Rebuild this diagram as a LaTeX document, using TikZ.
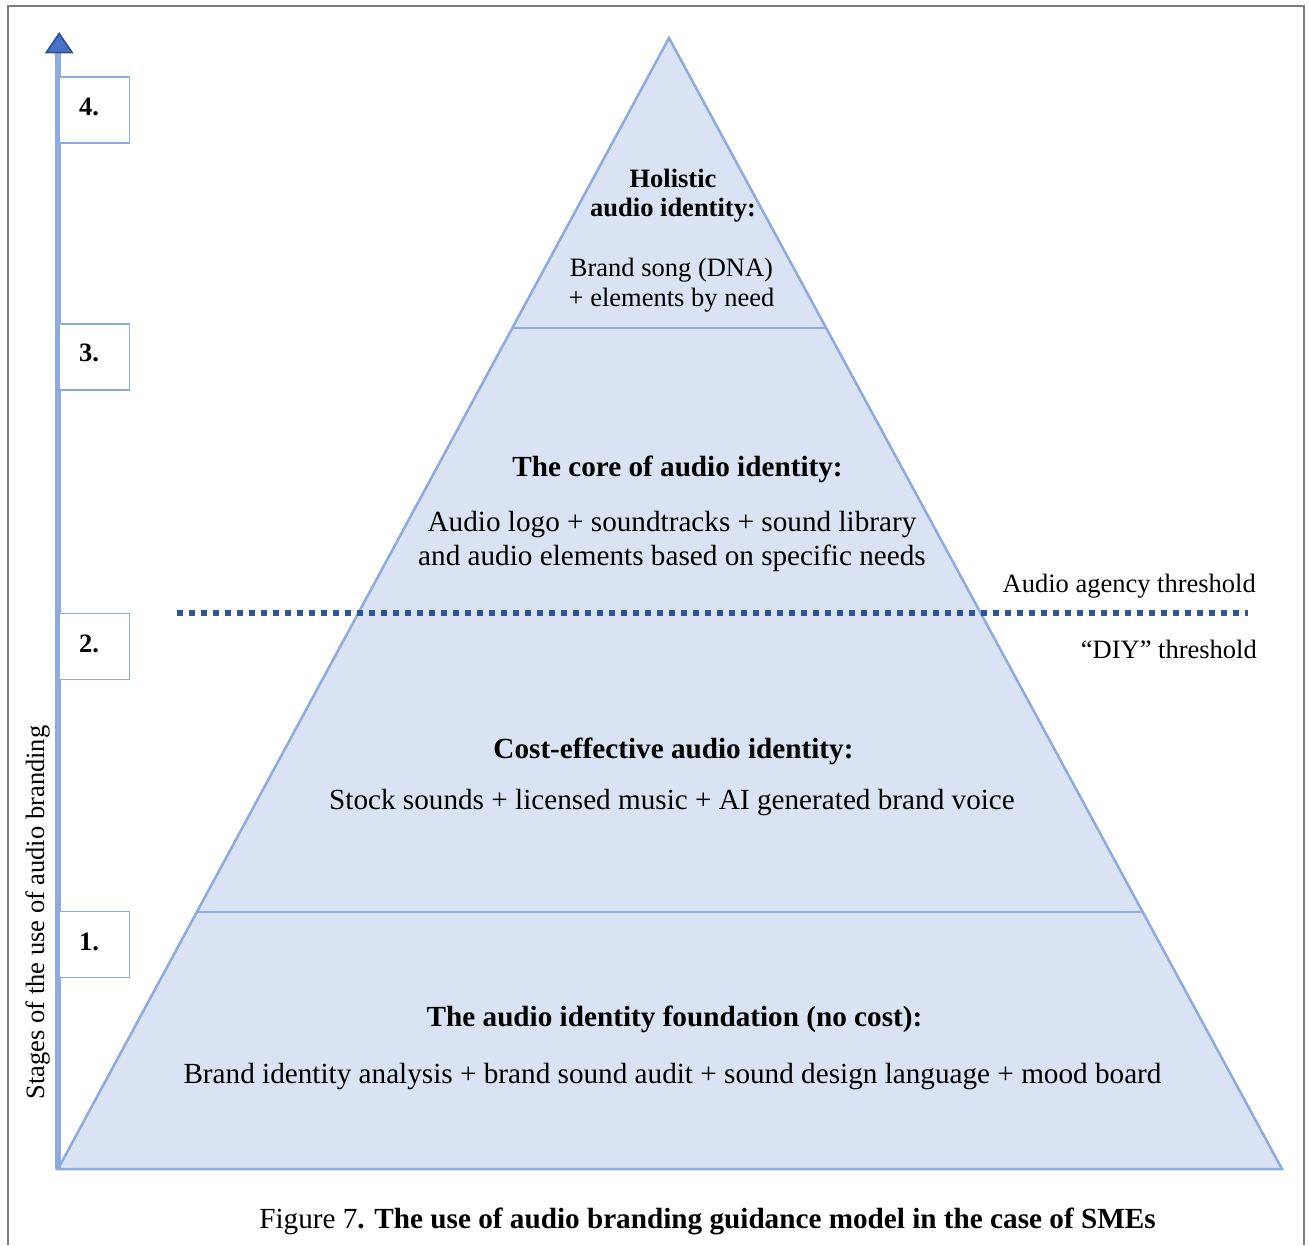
\documentclass[tikz,border=0pt]{standalone}
\usepackage{fontspec}
\setmainfont{Liberation Serif}
\usetikzlibrary{calc}
\definecolor{pyrfill}{HTML}{DAE3F3}
\definecolor{pyrline}{HTML}{8FAADC}
\definecolor{dotblue}{HTML}{2F5597}
\definecolor{tipfill}{HTML}{4472C4}
\definecolor{tipline}{HTML}{2F528F}
\definecolor{framegray}{HTML}{7F7F7F}
\begin{document}
\begin{tikzpicture}[x=1pt,y=-1pt,
  smalltext/.style={font=\fontsize{26.5}{30}\selectfont, inner sep=0pt, anchor=base},
  bigtext/.style={font=\fontsize{29.2}{34}\selectfont, inner sep=0pt, anchor=base},
  stagebox/.style={draw=pyrline, line width=1.5pt, fill=white, minimum width=70pt, minimum height=66pt, inner sep=0pt},
  stagenum/.style={font=\fontsize{26.5}{30}\selectfont\bfseries, inner sep=0pt, anchor=base west},
  level/.style={draw=pyrline, line width=2.5pt},
  threshold/.style={draw=dotblue, line width=5.5pt, dash pattern=on 5.5pt off 6.5pt}
]
\useasboundingbox (0,0) rectangle (1309,1245);

% outer frame
\draw[framegray, line width=2.5pt] (8,1245) -- (8,6) -- (1304,6) -- (1304,1245);

% pyramid corners
\coordinate (apex) at (669,38);
\coordinate (bl) at (58,1169);
\coordinate (br) at (1282,1169);
\filldraw[fill=pyrfill, draw=pyrline, line width=2.5pt, line join=miter] (bl) -- (apex) -- (br) -- cycle;

% level separators
\coordinate (l3L) at ($(apex)!0.2564!(bl)$);
\coordinate (l3R) at ($(apex)!0.2564!(br)$);
\coordinate (l1L) at ($(apex)!0.7728!(bl)$);
\coordinate (l1R) at ($(apex)!0.7728!(br)$);
\draw[level] (l3L) -- (l3R);
\draw[level] (l1L) -- (l1R);

% vertical axis with triangular head
\coordinate (axbot) at (57.8,1169);
\coordinate (axbase) at (57.8,52);
\coordinate (axtop) at (59.2,33.5);
\draw[pyrline, line width=6pt] (axbot) -- (axbase);
\filldraw[fill=tipfill, draw=tipline, line width=1.6pt, line join=miter]
  ($(axbase)+(-11.5,0.5)$) -- (axtop) -- ($(axbase)+(14.3,0.5)$) -- cycle;

% stage boxes
\node[stagebox] (box4) at (94.5,110) {};
\node[stagebox] (box3) at (94.5,357) {};
\node[stagebox] (box2) at (94.5,646.5) {};
\node[stagebox] (box1) at (94.5,944.5) {};
\node[stagenum] (n4) at (79,115) {4.};
\node[stagenum] (n3) at (79,361) {3.};
\node[stagenum] (n2) at (79,652) {2.};
\node[stagenum] (n1) at (79,950) {1.};

% axis caption
\node[smalltext, rotate=90] (axislabel) at (44,912.5) {Stages of the use of audio branding};

% threshold line
\coordinate (thrL) at (177,613);
\coordinate (thrR) at (1248,613);
\draw[threshold] (thrL) -- (thrR);
\node[smalltext, anchor=base east] (agency) at (1256,592) {Audio agency threshold};
\node[smalltext, anchor=base east] (diy) at (1257,658) {“DIY” threshold};

% level 4
\node[smalltext, font=\fontsize{26.5}{30}\selectfont\bfseries] (h4a) at (673,187) {Holistic};
\node[smalltext, font=\fontsize{26.5}{30}\selectfont\bfseries] (h4b) at (673,216.5) {audio identity:};
\node[smalltext] (b4a) at (671.5,276) {Brand song (DNA)};
\node[smalltext] (b4b) at (671.5,306) {+ elements by need};

% level 3
\node[bigtext, font=\fontsize{29.2}{34}\selectfont\bfseries] (h3) at (677.5,476) {The core of audio identity:};
\node[bigtext] (b3a) at (672,531) {Audio logo + soundtracks + sound library};
\node[bigtext] (b3b) at (672,565) {and audio elements based on specific needs};

% level 2
\node[bigtext, font=\fontsize{29.2}{34}\selectfont\bfseries] (h2) at (673.5,758) {Cost-effective audio identity:};
\node[bigtext] (b2) at (672,809) {Stock sounds + licensed music + AI generated brand voice};

% level 1
\node[bigtext, font=\fontsize{29.2}{34}\selectfont\bfseries] (h1) at (674.5,1026) {The audio identity foundation (no cost):};
\node[bigtext] (b1) at (672.5,1083) {Brand identity analysis + brand sound audit + sound design language + mood board};

% figure caption
\node[bigtext, font=\fontsize{29.2}{34}\selectfont] (caption) at (707.5,1228) {Figure 7\textbf{. The use of audio branding guidance model in the case of SMEs}};
\end{tikzpicture}
\end{document}
